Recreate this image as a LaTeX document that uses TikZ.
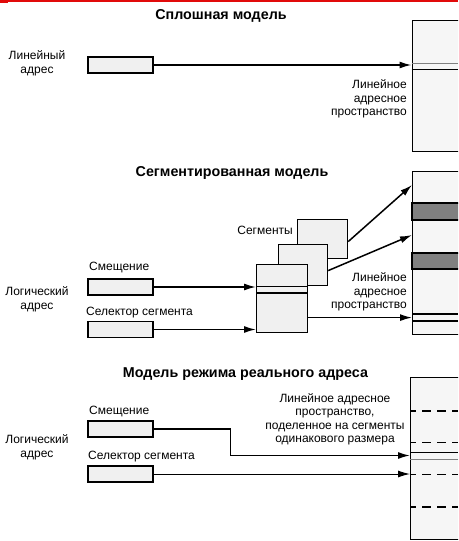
\documentclass[tikz,border=0pt]{standalone}
\usepackage{fontspec}
\setmainfont{Liberation Sans}
\usetikzlibrary{positioning,calc,arrows.meta}
\definecolor{boxgray}{gray}{0.94}
\definecolor{spacegray}{gray}{0.965}
\definecolor{bandgray}{gray}{0.5}
\definecolor{topred}{RGB}{225,10,10}

\begin{document}
\begin{tikzpicture}[x=1pt,y=-1pt,
    addr/.style={draw,line width=1.4pt,fill=boxgray,minimum width=65pt,minimum height=16pt,inner sep=0pt},
    segbox/.style={draw,line width=1.2pt,fill=boxgray,inner sep=0pt,anchor=north west},
    space/.style={draw,line width=1.4pt,fill=spacegray,minimum width=70pt,inner sep=0pt,anchor=north west},
    arr/.style={line width=1.5pt,-{Latex[length=12pt,width=7pt]}},
    title/.style={font=\fontsize{14.3}{16}\selectfont\bfseries,inner sep=0pt},
    lbl/.style={font=\fontsize{12}{13.5}\selectfont,inner sep=0pt,align=center},
    cut/.style={line width=1.3pt,dash pattern=on 9pt off 6pt,dash phase=3pt},
    thincut/.style={line width=0.8pt,dash pattern=on 9pt off 6pt,dash phase=3pt},
]
    \useasboundingbox (0,0) rectangle (458,541);
    \clip (0,0) rectangle (458,541);
    \fill[white] (0,0) rectangle (458,541);

    % Top bar
    \draw[topred,line width=1.6pt] (0,0.8) -- (458,0.8);
    \fill[topred] (0,0) rectangle (8,2.6);

    % Flat model
    \node[title] (flattitle) at (221,16) {Сплошная модель};
    \node[lbl] (flatlbl) at (37,63.5) {Линейный\\адрес};
    \node[addr] (flataddr) at (120.5,65) {};
    \node[space,minimum height=131pt] (flatspace) at (411.5,20) {};
    \draw[line width=0.6pt,gray] (411.5,63.5) -- (458,63.5);
    \draw[line width=1pt] (411.5,69) -- (458,69);
    \coordinate (flathit) at (411.5,65);
    \draw[arr] (flataddr.east) -- (flathit);
    \node[lbl,align=right,anchor=east] (flatspacelbl) at (407,99) {Линейное\\адресное\\пространство};

    % Segmented model
    \node[title] (segtitle) at (232,173) {Сегментированная модель};
    \node[space,minimum height=163pt] (segspace) at (412,171) {};
    \draw[line width=1.2pt,fill=bandgray] (412,203) rectangle (470,220);
    \draw[line width=1.2pt,fill=bandgray] (412,253) rectangle (470,269);
    \draw[line width=1.4pt] (412,314) -- (458,314);
    \draw[line width=1.2pt] (412,321) -- (458,321);
    \node[lbl,align=right,anchor=east] (segspacelbl) at (407,292) {Линейное\\адресное\\пространство};

    \node[segbox,minimum width=50pt,minimum height=39pt] (segC) at (297,219) {};
    \node[segbox,minimum width=49pt,minimum height=41pt] (segB) at (278,244) {};
    \node[segbox,minimum width=51pt,minimum height=68pt] (segA) at (256,264) {};
    \draw[line width=0.8pt] (segA.west |- 0,286) -- (segA.east |- 0,286);
    \draw[line width=1.2pt] (segA.west |- 0,293) -- (segA.east |- 0,293);
    \node[lbl,anchor=east] (seglbl) at (293,230) {Сегменты};

    \node[lbl] (loglbl1) at (37,299.5) {Логический\\адрес};
    \node[lbl,anchor=west] (offlbl1) at (89,268) {Смещение};
    \node[addr] (offmid) at (120.5,287) {};
    \node[lbl,anchor=west] (sellbl1) at (86,313) {Селектор сегмента};
    \node[addr] (selmid) at (120.5,329.5) {};

    \coordinate (hitC) at (412,185);
    \coordinate (hitB) at (412,235);
    \coordinate (outA) at ($(segA.east)+(0,19)$);
    \draw[arr] (offmid.east) -- (offmid.east -| segA.west);
    \draw[arr] (selmid.east) -- (selmid.east -| segA.west);
    \draw[arr] ($(segC.east)+(0,2.5)$) -- (hitC);
    \draw[arr] ($(segB.east)+(0,5.5)$) -- (hitB);
    \draw[arr] (outA) -- (outA -| segspace.west);

    % Real-address mode model
    \node[title] (realtitle) at (245.5,374) {Модель режима реального адреса};
    \node[space,minimum height=162pt] (realspace) at (410,377) {};
    \draw[cut] (410,411) -- (458,411);
    \draw[thincut] (410,442) -- (458,442);
    \draw[line width=0.8pt] (410,452.5) -- (458,452.5);
    \draw[line width=1pt,gray] (410,459) -- (458,459);
    \draw[thincut] (410,474) -- (458,474);
    \draw[cut] (410,507) -- (458,507);
    \node[lbl] (realspacelbl) at (335,419.5) {Линейное адресное\\пространство,\\поделенное на сегменты\\одинакового размера};

    \node[lbl] (loglbl2) at (37,447.5) {Логический\\адрес};
    \node[lbl,anchor=west] (offlbl2) at (89,412) {Смещение};
    \node[addr] (offreal) at (120.5,429) {};
    \node[lbl,anchor=west] (sellbl2) at (88,457) {Селектор сегмента};
    \node[addr] (selreal) at (120.5,474) {};

    \coordinate (realhit) at (410,455.5);
    \draw[arr] (offreal.east) -- ++(77,0) |- (realhit);
    \draw[arr,line width=1pt] (selreal.east) -- (selreal.east -| realspace.west);
\end{tikzpicture}
\end{document}
